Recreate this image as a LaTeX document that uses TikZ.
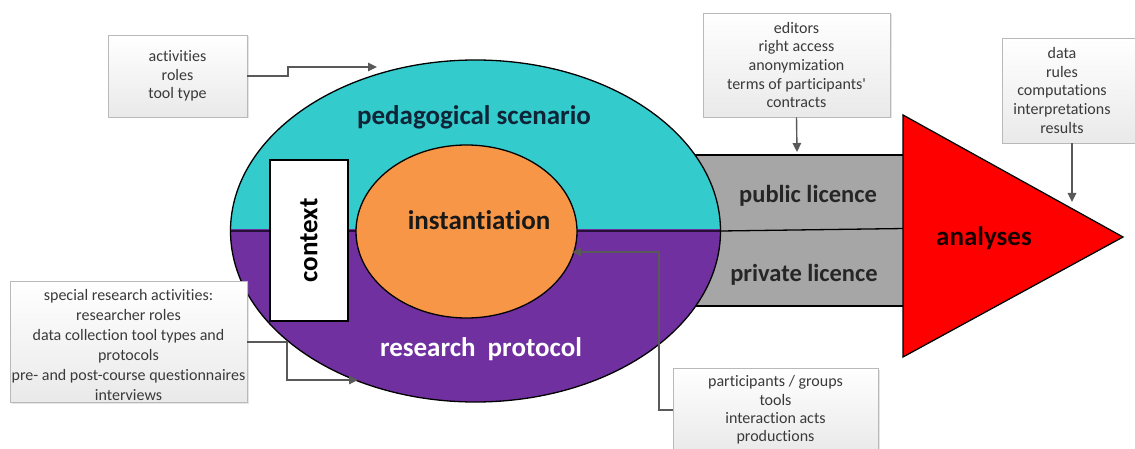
\documentclass[tikz,border=0pt]{standalone}
\usepackage{fontspec}
\setmainfont{Carlito}[Ligatures={NoCommon}]
\newfontfamily\aposfont{Carlito}[Ligatures={NoCommon}]
\usetikzlibrary{shapes.geometric,arrows.meta,shadows}
\definecolor{cyanc}{HTML}{33CBCC}
\definecolor{purc}{HTML}{7030A0}
\definecolor{orac}{HTML}{F79646}
\definecolor{grayband}{HTML}{A6A6A6}
\definecolor{arrc}{HTML}{595959}
\definecolor{boxtext}{HTML}{3A3A3A}
\definecolor{navy}{HTML}{0F2537}
\tikzset{
  infobox/.style={draw=gray!55, line width=0.6pt, top color=white, bottom color=gray!17,
    drop shadow={opacity=0.2, shadow xshift=1.5pt, shadow yshift=-1.5pt},
    inner sep=0pt},
  infotext/.style={align=center, text=boxtext, font=\fontsize{16}{18.7}\selectfont},
  arr/.style={draw=arrc, line width=1.4pt, -{Triangle[length=9pt,width=8.5pt]}},
  biglabel/.style={font=\fontsize{27}{30}\selectfont\bfseries},
  bandlabel/.style={font=\fontsize{24.5}{28}\selectfont\bfseries, text=black!85},
  outline/.style={draw=black, line width=1.3pt}
}
\begin{document}
\begin{tikzpicture}[x=1pt,y=-1pt]
\useasboundingbox (0,0) rectangle (1135,449);
\fill[white] (0,0) rectangle (1135,449);
% gray band
\node[outline, fill=grayband, minimum width=215pt, minimum height=151pt, inner sep=0pt] (band) at (797.5,230.5) {};
% outer ellipse
\node[ellipse, minimum width=490pt, minimum height=342pt, inner sep=0pt] (outer) at (475.5,231) {};
\begin{scope}
\clip (200,0) rectangle (760,230);
\fill[cyanc] (outer.center) ellipse [x radius=245pt, y radius=171pt];
\end{scope}
\begin{scope}
\clip (200,230) rectangle (760,449);
\fill[purc] (outer.center) ellipse [x radius=245pt, y radius=171pt];
\end{scope}
\draw[outline] (outer.center) ellipse [x radius=245pt, y radius=171pt];
\draw[outline] (outer.west) -- (outer.east) -- (905,228.5);
% inner ellipse
\node[ellipse, outline, fill=orac, minimum width=221pt, minimum height=173pt, inner sep=0pt] (inst) at (466.5,231.5) {};
\node[biglabel, text=black!90] (instl) at (479,220) {instantiation};
% context
\node[outline, fill=white, minimum width=78pt, minimum height=161pt, inner sep=0pt] (ctx) at (309,240.5) {};
\node[biglabel, rotate=90, text=black] (ctxl) at (ctx.center) {context};
% labels
\node[biglabel, text=navy] (ped) at (474,117) {pedagogical scenario};
\node[biglabel, text=white] (rp) at (481,349) {research\ \ protocol};
\node[bandlabel] (pub) at (808,196) {public licence};
\node[bandlabel] (priv) at (804,275) {private licence};
% triangle
\coordinate (ta) at (903,115);
\coordinate (tb) at (1123,237);
\coordinate (tc) at (903,357);
\draw[outline, fill=red, line join=miter] (ta) -- (tb) -- (tc) -- cycle;
\node[biglabel, text=black!90!red] (ana) at (984,238) {analyses};
% info boxes
\node[infobox, minimum width=139pt, minimum height=82pt] (b1) at (177.5,76) {};
\node[infotext] at (b1.center) {activities\\roles\\tool type};
\node[infobox, minimum width=237pt, minimum height=121pt] (b2) at (128.5,342) {};
\node[infotext, font=\fontsize{16}{20}\selectfont] at (128.5,345) {special research activities:\\researcher roles\\data collection tool types and\\protocols\\pre- and post-course questionnaires\\interviews};
\node[infobox, minimum width=205pt, minimum height=84pt] (b3) at (775.5,410) {};
\node[infotext, font=\fontsize{16}{18.4}\selectfont] at (775.5,410) {participants / groups\\tools\\interaction acts\\productions};
\node[infobox, minimum width=187pt, minimum height=104pt] (b4) at (796.5,65) {};
\node[infotext] at (b4.center) {editors\\right access\\anonymization\\terms of participants{\aposfont\char"27}\\contracts};
\node[infobox, minimum width=140pt, minimum height=105pt] (b5) at (1072,90.5) {};
\node[infotext] at (1062,90.5) {data\\rules\\computations\\interpretations\\results};
% connectors
\coordinate (t1) at (377,67);
\coordinate (t2) at (358,380);
\coordinate (t3) at (572,252);
\coordinate (t4) at (797,152);
\coordinate (t5) at (1072,202);
\draw[arr] (b1.east) -- (288,76) |- (t1);
\draw[arr] (b2.east) -- (287,342) |- (t2);
\draw[arr] (b3.west) -- (659,410) |- (t3);
\draw[arr] (b4.south) -- (t4);
\draw[arr] (b5.south) -- (t5);
\end{tikzpicture}
\end{document}
